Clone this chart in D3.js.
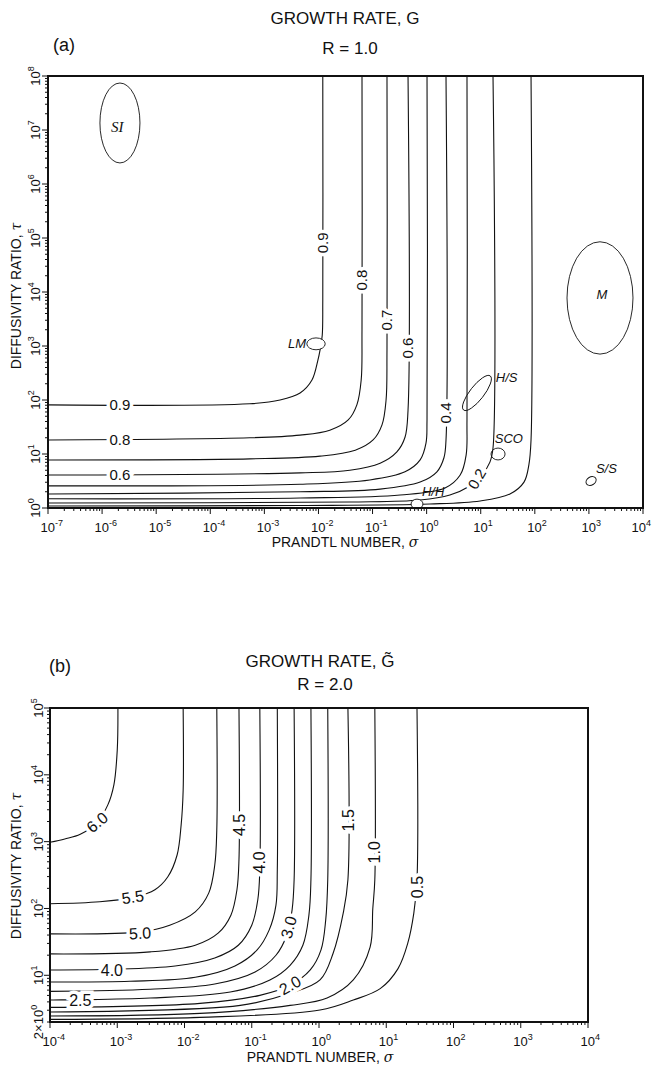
<!DOCTYPE html>
<html>
<head>
<meta charset="utf-8">
<script src="https://cdn.jsdelivr.net/npm/d3@7"></script>
<style>
  body { margin: 0; background: #fff; }
  svg { display: block; }
  text { font-family: 'Liberation Sans', Arial, sans-serif; fill: #111; }
</style>
</head>
<body>
<div id="chart"></div>
<script>
// Growth rate maps: (a) R = 1.0 and (b) R = 2.0
// contour points as [log10 sigma, log10 tau]

// ---------- panel (a) ----------
const xTicksA = [-7, -6, -5, -4, -3, -2, -1, 0, 1, 2, 3, 4];
const yTicksA = [0, 1, 2, 3, 4, 5, 6, 7, 8];

const levelsA = ['0.9', '0.8', '0.7', '0.6', '0.5', '0.4', '0.3', '0.2', '0.1'];
const pathsA = [
    [[-7, 1.91], [-3.27, 1.93], [-2.71, 2.0], [-2.34, 2.13], [-2.12, 2.37], [-2.01, 2.74], [-1.97, 2.93], [-1.93, 3.20], [-1.92, 3.85], [-1.92, 8]],
    [[-7, 1.26], [-3.27, 1.30], [-2.34, 1.35], [-1.79, 1.44], [-1.45, 1.63], [-1.29, 1.91], [-1.21, 2.37], [-1.195, 3.30], [-1.195, 8]],
    [[-7, 0.89], [-3.27, 0.91], [-1.97, 0.96], [-1.32, 1.07], [-0.99, 1.26], [-0.825, 1.54], [-0.75, 2.0], [-0.733, 2.93], [-0.733, 8]],
    [[-7, 0.61], [-2.34, 0.65], [-1.42, 0.70], [-0.86, 0.83], [-0.55, 1.04], [-0.40, 1.31], [-0.344, 1.81], [-0.344, 8]],
    [[-7, 0.41], [-2.34, 0.44], [-1.05, 0.52], [-0.40, 0.67], [-0.12, 0.89], [-0.012, 1.20], [0.007, 1.63], [0.007, 8]],
    [[-7, 0.26], [-2.34, 0.30], [-0.86, 0.35], [-0.12, 0.48], [0.19, 0.67], [0.32, 0.93], [0.358, 1.26], [0.358, 8]],
    [[-7, 0.17], [-2.34, 0.185], [-0.49, 0.24], [0.34, 0.37], [0.62, 0.61], [0.73, 0.98], [0.746, 1.63], [0.746, 8]],
    [[-7, 0.093], [-1.42, 0.111], [-0.12, 0.148], [0.43, 0.24], [0.765, 0.39], [1.02, 0.61], [1.17, 0.85], [1.227, 1.11], [1.227, 8]],
    [[-7, 0.037], [-2.34, 0.046], [0.06, 0.074], [0.99, 0.13], [1.54, 0.26], [1.80, 0.48], [1.89, 0.80], [1.93, 1.26], [1.93, 8]]
];
// [text, log sigma, log tau, angle]
const contourLabelsA = [
    ['0.9', -1.92, 4.91, -90], ['0.8', -1.195, 4.22, -90], ['0.7', -0.733, 3.48, -90],
    ['0.6', -0.344, 2.96, -90], ['0.4', 0.358, 1.76, -90], ['0.2', 0.93, 0.54, -60],
    ['0.9', -5.67, 1.91, 0], ['0.8', -5.67, 1.26, 0], ['0.6', -5.67, 0.61, 0]
];
// fluid regions: [name, log sigma, log tau, rx (decades), ry (decades), rotation]
const regionsA = [
    ['SI', -5.67, 7.13, 0.37, 0.74, 0],
    ['M', 3.205, 3.89, 0.61, 1.04, 0],
    ['LM', -2.045, 3.04, 0.17, 0.11, 0],
    ['H/S', 0.93, 2.13, 0.40, 0.13, -52],
    ['SCO', 1.32, 1.0, 0.13, 0.11, 0],
    ['H/H', -0.178, 0.074, 0.11, 0.09, 0],
    ['S/S', 3.04, 0.5, 0.10, 0.075, -30]
];
// [text, log sigma, log tau, anchor]
const regionLabelsA = [
    ['SI', -5.72, 7.06, 'middle'], ['M', 3.24, 3.96, 'middle'], ['LM', -2.23, 2.96, 'end'],
    ['H/S', 1.28, 2.33, 'start'], ['SCO', 1.26, 1.20, 'start'], ['H/H', -0.086, 0.22, 'start'],
    ['S/S', 3.13, 0.65, 'start']
];

// ---------- panel (b) ----------
const xTicksB = [-4, -3, -2, -1, 0, 1, 2, 3, 4];
// [tau, base, exponent]
const yTicksB = [[2, '2\u00d710', '0'], [10, '10', '1'], [100, '10', '2'], [1000, '10', '3'], [1e4, '10', '4'], [1e5, '10', '5']];

const levelsB = ['6.0', '5.5', '5.0', '4.5', '4.0', '3.5', '3.0', '2.5', '2.0', '1.5', '1.0', '0.5'];
const pathsB = [
    [[-2.99, 5], [-3.00, 4.37], [-3.05, 3.85], [-3.14, 3.55], [-3.30, 3.29], [-3.55, 3.11], [-3.78, 3.04], [-4, 2.99]],
    [[-2.02, 5], [-2.02, 3.77], [-2.05, 3.25], [-2.11, 2.80], [-2.25, 2.47], [-2.44, 2.28], [-2.74, 2.17], [-3.26, 2.10], [-4, 2.07]],
    [[-1.52, 5], [-1.52, 3.17], [-1.55, 2.65], [-1.64, 2.23], [-1.84, 1.95], [-2.22, 1.75], [-2.66, 1.65], [-4, 1.62]],
    [[-1.19, 5], [-1.19, 2.73], [-1.22, 2.28], [-1.31, 1.90], [-1.50, 1.63], [-1.84, 1.45], [-2.51, 1.35], [-4, 1.32]],
    [[-0.88, 5], [-0.88, 2.58], [-0.91, 2.13], [-1.00, 1.75], [-1.20, 1.45], [-1.55, 1.26], [-2.14, 1.14], [-3.11, 1.09], [-4, 1.08]],
    [[-0.62, 5], [-0.62, 2.58], [-0.64, 2.05], [-0.74, 1.68], [-0.92, 1.38], [-1.25, 1.14], [-1.84, 0.97], [-2.81, 0.91], [-4, 0.90]],
    [[-0.37, 5], [-0.37, 2.43], [-0.40, 1.98], [-0.48, 1.60], [-0.64, 1.30], [-0.95, 1.05], [-1.55, 0.87], [-2.51, 0.79], [-4, 0.76]],
    [[-0.12, 5], [-0.12, 2.43], [-0.15, 1.90], [-0.24, 1.45], [-0.43, 1.15], [-0.73, 0.93], [-1.32, 0.75], [-2.51, 0.66], [-4, 0.63]],
    [[0.13, 5], [0.13, 2.43], [0.10, 1.83], [0.03, 1.38], [-0.13, 1.08], [-0.43, 0.85], [-0.88, 0.70], [-1.77, 0.58], [-4, 0.52]],
    [[0.43, 5], [0.43, 2.43], [0.36, 1.93], [0.21, 1.33], [0.015, 0.93], [-0.43, 0.73], [-1.17, 0.55], [-4, 0.45]],
    [[0.83, 5], [0.83, 2.43], [0.80, 2.0], [0.76, 1.42], [0.51, 0.93], [0.12, 0.66], [-0.43, 0.55], [-1.77, 0.43], [-4, 0.39]],
    [[1.457, 5], [1.457, 2.43], [1.41, 1.93], [1.32, 1.48], [1.175, 1.10], [0.91, 0.80], [0.51, 0.63], [0.015, 0.48], [-1.77, 0.37], [-4, 0.34]]
];
const contourLabelsB = [
    ['6.0', -3.30, 3.29, -40], ['5.5', -2.77, 2.17, -8], ['5.0', -2.66, 1.63, -3],
    ['4.5', -1.19, 3.25, -90], ['4.0', -0.88, 2.69, -90], ['4.0', -3.08, 1.08, 0],
    ['3.0', -0.45, 1.72, -75], ['2.5', -3.55, 0.63, 0], ['2.0', -0.43, 0.85, -30],
    ['1.5', 0.43, 3.32, -90], ['1.0', 0.83, 2.84, -90], ['0.5', 1.457, 2.32, -90]
];

const svg = d3.select('#chart').append('svg')
    .attr('width', 653)
    .attr('height', 1066);

const line = d3.line().curve(d3.curveCatmullRom.alpha(0.5));

function decadeLabel(sel, base, exp) {
    sel.append('tspan').text(base);
    sel.append('tspan')
        .attr('dy', -6)
        .style('font-size', '9px')
        .text(exp);
}

function drawAxes(x, y, xTicks, yTicks, yLabelX) {
    const [xl, xr] = x.range();
    const yb = d3.max(y.range());
    const yt = d3.min(y.range());
    const g = svg.append('g').attr('stroke', '#111');

    // minor + major ticks, pointing out
    const logTicks = s => {
        const [a, b] = d3.extent(s.domain());
        const out = [];
        for (let d = Math.floor(Math.log10(a)); d <= Math.ceil(Math.log10(b)); d++) {
            for (let k = 1; k <= 9; k++) {
                const v = k * Math.pow(10, d);
                if (v >= a * 0.999 && v <= b * 1.001) out.push([v, k === 1]);
            }
        }
        return out;
    };
    logTicks(x).forEach(([v, major]) => {
        g.append('line')
            .attr('x1', x(v)).attr('x2', x(v))
            .attr('y1', yb).attr('y2', yb + (major ? 6 : 3))
            .attr('stroke-width', 1);
    });
    logTicks(y).forEach(([v, major]) => {
        g.append('line')
            .attr('y1', y(v)).attr('y2', y(v))
            .attr('x1', xl).attr('x2', xl - (major ? 6 : 3))
            .attr('stroke-width', 1);
    });

    // frame
    svg.append('rect')
        .attr('x', xl).attr('y', yt)
        .attr('width', xr - xl).attr('height', yb - yt)
        .attr('fill', 'none')
        .attr('stroke', '#111')
        .attr('stroke-width', 2);

    // x tick labels, kept inside the page
    xTicks.forEach(e => {
        const t = svg.append('text')
            .attr('x', x(Math.pow(10, e)) - 7.5)
            .attr('y', yb + 24)
            .style('font-size', '13px');
        decadeLabel(t, '10', e);
        const w = t.node().getComputedTextLength();
        const x0 = +t.attr('x');
        if (x0 + w > 651) t.attr('x', 651 - w);
    });

    // y tick labels (rotated)
    yTicks.forEach(tk => {
        const v = Array.isArray(tk) ? tk[0] : Math.pow(10, tk);
        const base = Array.isArray(tk) ? tk[1] : '10';
        const exp = Array.isArray(tk) ? tk[2] : tk;
        const t = svg.append('text')
            .attr('transform', `translate(${yLabelX},${y(v)}) rotate(-90)`)
            .attr('text-anchor', 'middle')
            .style('font-size', '13px');
        decadeLabel(t, base, exp);
    });
}

function drawContours(x, y, paths, labels, fontSize) {
    const px = p => [x(Math.pow(10, p[0])), y(Math.pow(10, p[1]))];

    svg.append('g').selectAll('path')
        .data(paths)
        .enter()
        .append('path')
        .attr('d', d => line(d.map(px)))
        .attr('fill', 'none')
        .attr('stroke', '#111')
        .attr('stroke-width', 1.1);

    labels.forEach(([txt, lx, ly, ang]) => {
        const [cx, cy] = px([lx, ly]);
        svg.append('text')
            .attr('transform', `translate(${cx},${cy}) rotate(${ang})`)
            .attr('text-anchor', 'middle')
            .attr('dy', '0.35em')
            .attr('stroke', '#fff')
            .attr('stroke-width', 7)
            .attr('paint-order', 'stroke')
            .style('font-size', fontSize)
            .text(txt);
    });
}

function axisTitles(cx, xBase, yx, yc, title, tilde, rText, rx, titleBase, panel, panelX, panelBase) {
    const t = svg.append('text')
        .attr('x', cx).attr('y', titleBase)
        .attr('text-anchor', 'middle')
        .style('font-size', '17px')
        .text(title);
    if (tilde) t.append('tspan').text('G\u0303');

    svg.append('text')
        .attr('x', rx).attr('y', titleBase + (tilde ? 23 : 30))
        .attr('text-anchor', 'middle')
        .style('font-size', '17px')
        .text(rText);

    svg.append('text')
        .attr('x', panelX).attr('y', panelBase)
        .style('font-size', '18px')
        .text(panel);

    const xl = svg.append('text')
        .attr('x', cx).attr('y', xBase)
        .attr('text-anchor', 'middle')
        .style('font-size', '14px')
        .text('PRANDTL NUMBER, ');
    xl.append('tspan').style('font-family', 'DejaVu Serif, serif').style('font-style', 'italic').text('\u03c3');

    const yl = svg.append('text')
        .attr('transform', `translate(${yx},${yc}) rotate(-90)`)
        .attr('text-anchor', 'middle')
        .style('font-size', '14px')
        .text('DIFFUSIVITY RATIO, ');
    yl.append('tspan').style('font-family', 'DejaVu Serif, serif').style('font-style', 'italic').text('\u03c4');
}

function initPanelA() {
    const x = d3.scaleLog().domain([1e-7, 1e4]).range([48, 643]);
    const y = d3.scaleLog().domain([1, 1e8]).range([508, 76]);
    const px = p => [x(Math.pow(10, p[0])), y(Math.pow(10, p[1]))];

    drawContours(x, y, pathsA, contourLabelsA, '15px');

    // fluid regions
    regionsA.forEach(([name, lx, ly, rx, ry, rot]) => {
        const [cx, cy] = px([lx, ly]);
        const rxp = x(Math.pow(10, lx + rx)) - cx;
        const ryp = cy - y(Math.pow(10, ly + ry));
        svg.append('ellipse')
            .attr('cx', cx).attr('cy', cy)
            .attr('rx', rxp).attr('ry', ryp)
            .attr('transform', `rotate(${rot},${cx},${cy})`)
            .attr('fill', name === 'H/H' || name === 'LM' ? '#fff' : 'none')
            .attr('stroke', '#111')
            .attr('stroke-width', 0.9);
    });
    regionLabelsA.forEach(([txt, lx, ly, anchor]) => {
        const [cx, cy] = px([lx, ly]);
        svg.append('text')
            .attr('x', cx).attr('y', cy)
            .attr('dy', anchor === 'middle' ? '0.35em' : 0)
            .attr('text-anchor', anchor)
            .style('font-size', txt === 'SI' ? '15px' : '13px')
            .style('font-family', txt === 'SI' ? 'Liberation Serif, serif' : null)
            .style('font-style', 'italic')
            .text(txt);
    });

    drawAxes(x, y, xTicksA, yTicksA, 40);
    axisTitles(345, 547, 21, 296, 'GROWTH RATE, G', false, 'R = 1.0', 350, 24, '(a)', 53, 51);
}

function initPanelB() {
    const x = d3.scaleLog().domain([1e-4, 1e4]).range([50, 588]);
    const y = d3.scaleLog().domain([2, 1e5]).range([1022, 708]);

    drawContours(x, y, pathsB, contourLabelsB, '16px');
    drawAxes(x, y, xTicksB, yTicksB, 43);
    axisTitles(320, 1062, 21, 866, 'GROWTH RATE, ', true, 'R = 2.0', 325, 667, '(b)', 49, 672);
}

initPanelA();
initPanelB();
</script>
</body>
</html>
